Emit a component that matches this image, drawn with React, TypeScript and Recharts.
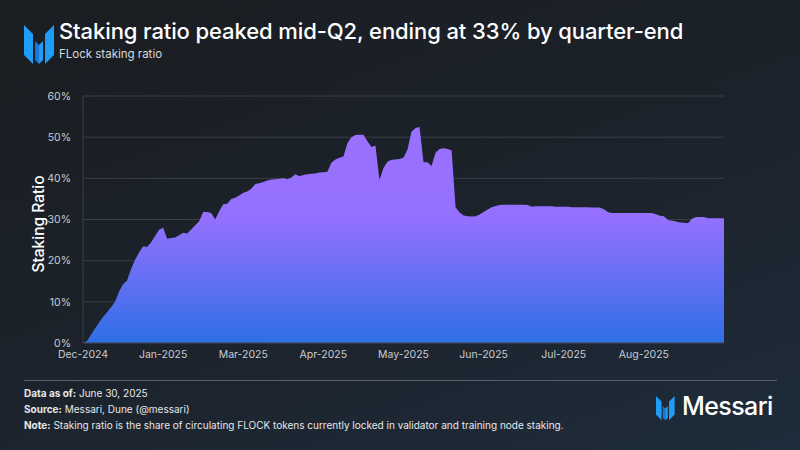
import React from "react";
import { AreaChart, Area, XAxis, YAxis, CartesianGrid } from "recharts";

// staking ratio (%), one reading per step along the x axis
const ratio = [
  0, 0.5, 2.0, 3.5, 5.0, 6.3, 7.5, 8.7, 10.0, 12.5,
  14.3, 15.2, 18.0, 20.2, 22.0, 23.5, 23.3, 24.5, 26.0, 27.5,
  28.0, 25.3, 25.5, 25.6, 26.2, 26.8, 26.6, 27.6, 28.6, 29.6,
  31.8, 31.8, 31.6, 30.0, 32.0, 33.7, 33.8, 35.0, 35.3, 35.8,
  36.5, 36.8, 37.5, 38.6, 38.8, 39.1, 39.5, 39.7, 39.8, 39.9,
  40.0, 39.8, 40.2, 41.0, 40.5, 40.8, 41.0, 41.1, 41.2, 41.4,
  41.5, 41.6, 43.8, 44.6, 45.0, 45.3, 48.5, 50.0, 50.5, 50.6,
  50.6, 49.0, 47.6, 47.9, 39.6, 42.5, 44.0, 44.5, 44.6, 44.7,
  45.0, 47.0, 51.3, 52.2, 52.5, 43.9, 43.9, 43.0, 46.2, 47.1,
  47.3, 47.1, 46.8, 33.0, 31.7, 31.0, 30.8, 30.7, 30.8, 31.2,
  31.8, 32.4, 33.0, 33.3, 33.5, 33.6, 33.6, 33.6, 33.6, 33.6,
  33.6, 33.5, 33.1, 33.2, 33.2, 33.2, 33.2, 33.2, 33.1, 33.1,
  33.1, 33.1, 33.0, 33.0, 33.0, 33.0, 33.0, 32.9, 32.9, 32.9,
  32.5, 31.8, 31.6, 31.6, 31.6, 31.6, 31.6, 31.6, 31.6, 31.6,
  31.6, 31.6, 31.6, 31.3, 30.9, 30.8, 29.9, 29.7, 29.5, 29.3,
  29.2, 29.1, 30.2, 30.6, 30.6, 30.6, 30.3, 30.3, 30.3, 30.3,
  30.3,
];

const tickIndex = [0, 20, 40, 60, 80, 100, 120, 140];
const tickLabels = ["Dec-2024", "Jan-2025", "Mar-2025", "Apr-2025", "May-2025", "Jun-2025", "Jul-2025", "Aug-2025"];
const yTicks = [0, 10, 20, 30, 40, 50, 60];

const data = ratio.map((v, i) => ({ i, v }));

const FONT = "Inter, 'Helvetica Neue', Arial, sans-serif";

const Logo = ({ x, y, s = 1 }: { x: number; y: number; s?: number }) => (
  <svg
    width={30 * s}
    height={40 * s}
    viewBox="0 0 30 40"
    style={{ position: "absolute", left: x, top: y }}
  >
    <polygon points="0,0 9,9 9,39 0,30" fill="#1f9cf5" />
    <polygon points="11,16 15,20 15,39 11,35" fill="#1878d8" />
    <polygon points="19,16 15,20 15,39 19,35" fill="#1f9cf5" />
    <polygon points="30,0 21,9 21,39 30,30" fill="#1f9cf5" />
  </svg>
);

export default function App() {
  return (
    <div
      style={{
        position: "absolute",
        left: 0,
        top: 0,
        width: 800,
        height: 450,
        overflow: "hidden",
        fontFamily: FONT,
        background: "linear-gradient(160deg, #1a1d21 0%, #1c232c 55%, #1e2c3b 100%)",
      }}
    >
      <Logo x={24} y={25} />
      <div style={{ position: "absolute", left: 59, top: 18, color: "#fff", fontSize: 22, fontWeight: 500, letterSpacing: -0.1 }}>
        Staking ratio peaked mid-Q2, ending at 33% by quarter-end
      </div>
      <div style={{ position: "absolute", left: 59, top: 47, color: "#d6d9de", fontSize: 11.5 }}>
        FLock staking ratio
      </div>

      <div style={{ position: "absolute", left: 0, top: 0 }}>
        <AreaChart width={800} height={450} data={data} margin={{ top: 96, right: 76, bottom: 77, left: 43 }}>
          <defs>
            <linearGradient id="stakeFill" x1="0" y1="0" x2="0" y2="1">
              <stop offset="0%" stopColor="#9b71ff" />
              <stop offset="42%" stopColor="#9570fe" />
              <stop offset="100%" stopColor="#2f6fe6" />
            </linearGradient>
          </defs>
          <CartesianGrid vertical={false} stroke="#3a3f47" strokeWidth={1} />
          <XAxis
            dataKey="i"
            type="number"
            domain={[0, ratio.length - 1]}
            ticks={tickIndex}
            tickFormatter={(v: number) => tickLabels[tickIndex.indexOf(v)] ?? ""}
            axisLine={{ stroke: "#3a3f47" }}
            tickLine={false}
            tick={{ fill: "#c9ccd2", fontSize: 10.5, fontFamily: FONT }}
            height={30}
            tickMargin={2}
            interval={0}
          />
          <YAxis
            domain={[0, 60]}
            ticks={yTicks}
            tickFormatter={(v: number) => `${v}%`}
            axisLine={{ stroke: "#3a3f47" }}
            tickLine={false}
            tick={{ fill: "#c9ccd2", fontSize: 10.5, fontFamily: FONT }}
            width={40}
            tickMargin={6}
          />
          <Area
            type="linear"
            dataKey="v"
            stroke="none"
            fill="url(#stakeFill)"
            fillOpacity={1}
            isAnimationActive={false}
          />
        </AreaChart>
      </div>

      <div
        style={{
          position: "absolute",
          left: 38,
          top: 224,
          transform: "translate(-50%, -50%) rotate(-90deg)",
          color: "#fff",
          fontSize: 15.5,
          fontWeight: 500,
          whiteSpace: "nowrap",
        }}
      >
        Staking Ratio
      </div>

      <div style={{ position: "absolute", left: 24, top: 380, width: 753, height: 1, background: "#5a616b" }} />
      <div style={{ position: "absolute", left: 24, top: 385, color: "#e6e8eb", fontSize: 10, lineHeight: "16px" }}>
        <div><b>Data as of:</b> June 30, 2025</div>
        <div><b>Source:</b> Messari, Dune (@messari)</div>
        <div><b>Note:</b> Staking ratio is the share of circulating FLOCK tokens currently locked in validator and training node staking.</div>
      </div>
      <Logo x={656} y={396} s={0.62} />
      <div style={{ position: "absolute", left: 682, top: 391, color: "#fff", fontSize: 25, fontWeight: 500, letterSpacing: -0.6 }}>
        Messari
      </div>
    </div>
  );
}
